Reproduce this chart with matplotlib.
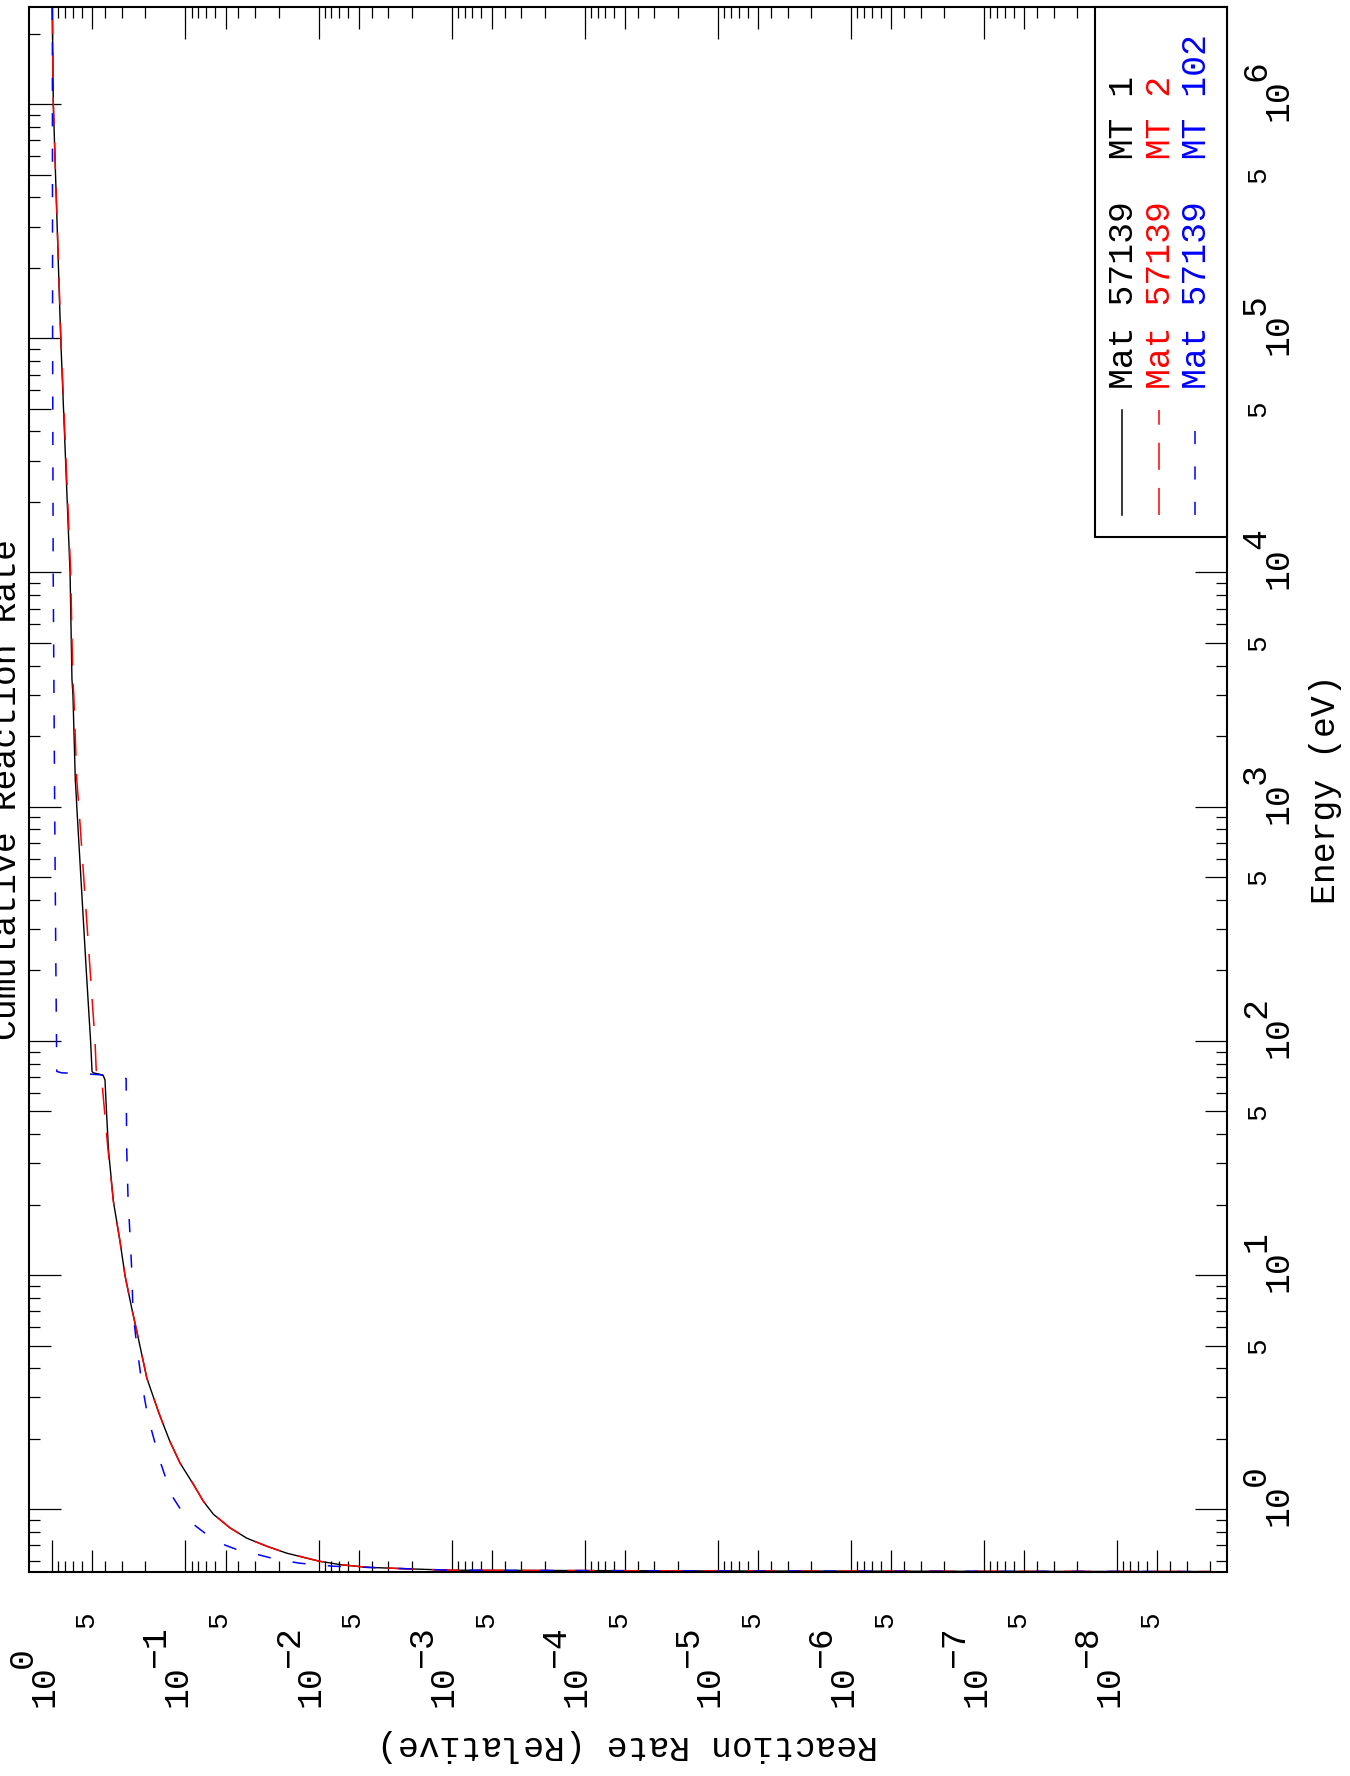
import matplotlib
matplotlib.use("Agg")
import matplotlib.pyplot as plt
from matplotlib import transforms
from matplotlib.ticker import FixedLocator, NullFormatter
from matplotlib.lines import Line2D
from matplotlib.patches import Rectangle

plt.rcParams["font.family"] = ["Liberation Mono", "DejaVu Sans"]
plt.rcParams["lines.scale_dashes"] = False

W, H, DPI = 1350, 1776, 100

# ---------- data (energy in eV, cumulative rate) ----------
E_TOT = [2.6e6, 1e6, 1e5, 1e4, 3.5e3, 3.0e3, 1.3e3, 1.1e3, 1e3, 200, 100, 74, 73, 72, 71,
         68, 50, 33.9, 20.7, 13.9, 9.9, 7.2, 5.37, 3.63, 2.62, 2.496, 1.95, 1.577, 1.279,
         1.082, 0.952, 0.832, 0.752, 0.695, 0.649, 0.600, 0.580, 0.565, 0.558, 0.549,
         0.545, 0.543, 0.5418]
R_TOT = [1.0, 0.983, 0.865, 0.736, 0.712, 0.700, 0.672, 0.660, 0.655, 0.556, 0.516, 0.503,
         0.492, 0.440, 0.414, 0.402, 0.392, 0.378, 0.348, 0.310, 0.284, 0.253, 0.226, 0.195,
         0.160, 0.155, 0.131, 0.110, 0.0873, 0.0734, 0.0617, 0.0462, 0.0346, 0.0245,
         0.01733, 0.0099, 0.00689, 0.00434, 0.00244, 0.00103, 1e-5, 1e-7, 2e-9]

E_EL = [2.6e6, 1e6, 1e5, 1e4, 3.5e3, 3.0e3, 1.3e3, 1.1e3, 1e3, 200, 100, 75, 72, 68, 61,
        50, 35, 20.7, 13.9, 9.9, 7.2, 5.37, 3.63, 2.62, 2.496, 1.95, 1.577, 1.279, 1.082,
        0.952, 0.832, 0.752, 0.695, 0.649, 0.600, 0.580, 0.565, 0.558, 0.549, 0.545, 0.543,
        0.5418]
R_EL = [1.0, 0.983, 0.862, 0.728, 0.702, 0.690, 0.655, 0.640, 0.632, 0.520, 0.478, 0.468,
        0.450, 0.425, 0.418, 0.405, 0.383, 0.348, 0.310, 0.284, 0.253, 0.226, 0.195, 0.160,
        0.155, 0.131, 0.110, 0.0873, 0.0734, 0.0617, 0.0462, 0.0346, 0.0245, 0.01733,
        0.0099, 0.00689, 0.00434, 0.00244, 0.00103, 1e-5, 1e-7, 2e-9]

E_CAP = [2.6e6, 1e5, 1e4, 1e3, 200, 100, 74, 73, 72.5, 71, 69, 33.9, 21.3, 14.9, 10.4, 7.0,
         4.87, 3.42, 2.62, 2.154, 1.60, 1.317, 1.114, 0.981, 0.863, 0.780, 0.716, 0.673,
         0.642, 0.610, 0.588, 0.571, 0.549, 0.545, 0.543, 0.5418]
R_CAP = [1.0, 0.995, 0.985, 0.96, 0.94, 0.93, 0.925, 0.85, 0.60, 0.35, 0.279, 0.276, 0.270,
         0.261, 0.253, 0.248, 0.231, 0.212, 0.195, 0.179, 0.155, 0.138, 0.123, 0.1066,
         0.0873, 0.0692, 0.055, 0.0412, 0.0291, 0.0206, 0.0138, 0.00778, 0.00103, 1e-5,
         1e-7, 2e-9]

LEGEND = ["Mat 57139  MT 1", "Mat 57139  MT 2", "Mat 57139  MT 102"]
RATE_EXP = [0, -1, -2, -3, -4, -5, -6, -7, -8]
ENERGY_EXP = [0, 1, 2, 3, 4, 5, 6]

RED = "#ff0000"; BLUE = "#0000ff"
DASH_RED = (0, (19.5, 13))
DASH_BLUE = (0, (9.5, 16))


def fx(px):
    return px / W


def fy(py):
    return 1 - py / H


fig = plt.figure(figsize=(W / DPI, H / DPI), dpi=DPI)
L, R, T, B = 29.3, 1226.7, 7.3, 1571.7
ax = fig.add_axes([fx(L), fy(B), fx(R) - fx(L), fy(T) - fy(B)])

ax.plot(R_TOT, E_TOT, color="k", lw=1.0)
ax.plot(R_EL, E_EL, color=RED, lw=1.1, linestyle=DASH_RED)
ax.plot(R_CAP, E_CAP, color=BLUE, lw=1.1, linestyle=DASH_BLUE)

ax.set_xscale("log"); ax.set_yscale("log")
ax.set_xlim(1.489, 1.51e-9)
ax.set_ylim(0.541, 2.59e6)

for s in ax.spines.values():
    s.set_linewidth(1.5)

# ---------- ticks: decades long, fives medium, others short ----------
rate_major = [10.0 ** k for k in RATE_EXP]
rate_five = [5 * 10.0 ** k for k in range(-9, 0)]
rate_minor = [m * 10.0 ** k for k in range(-9, 1) for m in (2, 3, 4, 6, 7, 8, 9)]
en_major = [10.0 ** k for k in ENERGY_EXP]
en_five = [5 * 10.0 ** k for k in range(-1, 7)]
en_minor = [m * 10.0 ** k for k in range(-1, 7) for m in (2, 3, 4, 6, 7, 8, 9)]

ax.xaxis.set_major_locator(FixedLocator(rate_major + rate_five))
ax.xaxis.set_minor_locator(FixedLocator(rate_minor))
ax.yaxis.set_major_locator(FixedLocator(en_major + en_five))
ax.yaxis.set_minor_locator(FixedLocator(en_minor))
for a in (ax.xaxis, ax.yaxis):
    a.set_major_formatter(NullFormatter()); a.set_minor_formatter(NullFormatter())
ax.tick_params(which="both", direction="in", top=True, right=True, width=0.9)
ax.tick_params(which="major", length=23)
ax.tick_params(which="minor", length=8)

for axis, nmaj, nfive in ((ax.xaxis, len(rate_major), len(rate_five)),
                          (ax.yaxis, len(en_major), len(en_five))):
    ticks = axis.get_major_ticks(nmaj + nfive)
    for t in ticks[nmaj:]:
        t.tick1line.set_markersize(15.5)
        t.tick2line.set_markersize(15.5)

# ---------- tick labels (rotated page) ----------
tr_rate = transforms.blended_transform_factory(ax.transData, fig.transFigure)
tr_en = transforms.blended_transform_factory(fig.transFigure, ax.transData)


def off(t, dx, dy):
    return transforms.offset_copy(t, fig=fig, x=dx, y=dy, units="dots")


kw = dict(rotation=90, rotation_mode="anchor", va="baseline", clip_on=False)
for k in RATE_EXP:
    ax.text(10.0 ** k, fy(1707), "10", transform=off(tr_rate, 1, 0), ha="left", fontsize=25, **kw)
    ax.text(10.0 ** k, fy(1668), str(k).replace("-", "\u2212"), transform=off(tr_rate, -20, 0),
            ha="left", fontsize=25, **kw)
for v in rate_five:
    ax.text(v, fy(1628), "5", transform=off(tr_rate, 1, 0), ha="left", fontsize=20, **kw)

for k in ENERGY_EXP:
    ax.text(fx(1287), 10.0 ** k, "10", transform=off(tr_en, 0, 4), ha="center", fontsize=25, **kw)
    ax.text(fx(1265), 10.0 ** k, str(k), transform=off(tr_en, 0, 23), ha="left", fontsize=25, **kw)
for v in en_five:
    if 0.541 < v < 2.59e6:
        ax.text(fx(1265), v, "5", transform=tr_en, ha="center", fontsize=20, **kw)

# ---------- axis titles ----------
ymid = 0.5 * (fy(T) + fy(B))
fig.text(fx(1335), ymid, "Energy (eV)", ha="center", fontsize=25, **kw)
fig.text(fx(16), ymid, "Cumulative Reaction Rate", ha="center", fontsize=25, **kw)
fig.text(fx(628), fy(1745), "Reaction Rate (Relative)", rotation=180, ha="center",
         va="center", fontsize=25)

# ---------- legend box ----------
fig.add_artist(Rectangle((fx(1095), fy(537)), fx(R) - fx(1095), fy(T) - fy(537),
                         transform=fig.transFigure, facecolor="white", edgecolor="k",
                         lw=1.5, zorder=5))
styles = [("k", "-"), (RED, DASH_RED), (BLUE, DASH_BLUE)]
for i, (lab, (c, ls)) in enumerate(zip(LEGEND, styles)):
    xl = 1122 + 36.5 * i
    fig.add_artist(Line2D([fx(xl), fx(xl)], [fy(515), fy(410)], transform=fig.transFigure,
                          color=c, linestyle=ls, lw=1.1, zorder=6))
    fig.text(fx(xl + 11), fy(389), lab, color=c, ha="left", fontsize=25, zorder=6, **kw)

fig.savefig("out.png", dpi=DPI)
